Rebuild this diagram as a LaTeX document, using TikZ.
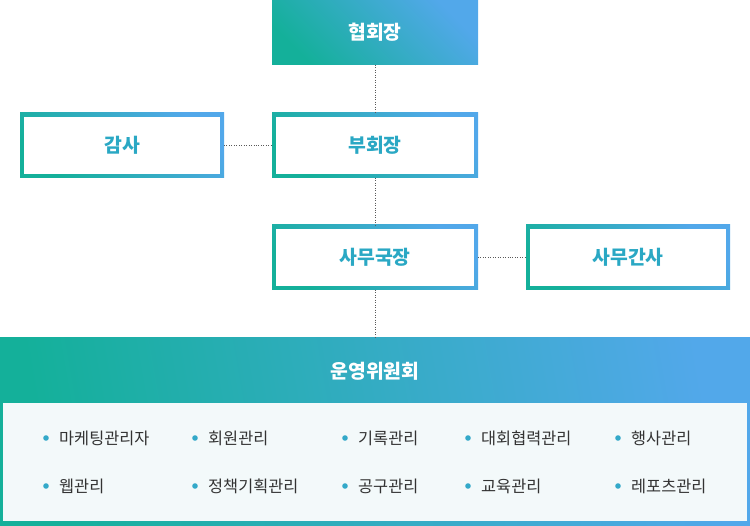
\documentclass[tikz,border=0pt]{standalone}
\usepackage{fontspec}
\setmainfont{Noto Sans CJK KR}
\usetikzlibrary{positioning}
\definecolor{teal1}{HTML}{14B09A}
\definecolor{blue1}{HTML}{52A8EA}
\definecolor{txtblue}{HTML}{2AA8C4}
\definecolor{panel}{HTML}{F3F9FA}
\definecolor{dot1}{HTML}{33A9C9}
\tikzset{
  grad/.style={left color=teal1, right color=blue1, shading angle=60},
  title/.style={text=white, font=\bfseries\fontsize{11}{11}\selectfont},
  boxtext/.style={text=txtblue, font=\bfseries\fontsize{11}{11}\selectfont},
  link/.style={densely dotted, gray!70!black, thin},
  item/.style={anchor=west, font=\fontsize{9.3}{9.3}\selectfont, text=black!80},
}
\newcommand{\gradbox}[5]{% name, x1, y1, x2, y2
  \shade[grad, shading angle=135] (#2,#3) rectangle (#4,#5);
  \fill[white] (#2+4,#3+4) rectangle (#4-4,#5-4);
}
\begin{document}
\begin{tikzpicture}[x=0.02cm, y=-0.02cm]
  \useasboundingbox (0,0) rectangle (750,526);
  % top
  \shade[left color=teal1, right color=blue1, shading angle=135] (272,0) rectangle (478,65);
  \node[title] (pres) at (375,32.5) {협회장};
  % second row
  \gradbox{aud}{20}{113}{224}{178}
  \node[boxtext] (audit) at (122,145.5) {감사};
  \gradbox{vp}{272}{113}{478}{178}
  \node[boxtext] (vice) at (375,145.5) {부회장};
  % third row
  \gradbox{sg}{272}{225}{478}{290}
  \node[boxtext] (secgen) at (375,257.5) {사무국장};
  \gradbox{sec}{526}{225}{730}{290}
  \node[boxtext] (secr) at (628,257.5) {사무간사};
  % committee
  \shade[left color=teal1, right color=blue1, shading angle=100] (0,338) rectangle (750,526);
  \fill[panel] (3,403) rectangle (747,521);
  \node[title] (comm) at (375,371) {운영위원회};
  % connectors
  \coordinate (p1) at (375,65);
  \coordinate (p2) at (375,113);
  \coordinate (p3) at (375,178);
  \coordinate (p4) at (375,225);
  \coordinate (p5) at (375,290);
  \coordinate (p6) at (375,338);
  \coordinate (a1) at (224,145.5);
  \coordinate (a2) at (272,145.5);
  \coordinate (s1) at (478,257.5);
  \coordinate (s2) at (526,257.5);
  \draw[link] (p1) -- (p2);
  \draw[link] (p3) -- (p4);
  \draw[link] (p5) -- (p6);
  \draw[link] (a1) -- (a2);
  \draw[link] (s1) -- (s2);
  % items
  \foreach \x/\y/\t [count=\i] in {46/438/마케팅관리자, 195/438/회원관리, 345/438/기록관리, 468/438/대회협력관리, 618/438/행사관리,
      46/486/웹관리, 195/486/정책기획관리, 345/486/공구관리, 468/486/교육관리, 618/486/레포츠관리} {
    \fill[dot1] (\x,\y) circle (2.8);
    \node[item] (item\i) at (\x+7,\y) {\t};
  }
\end{tikzpicture}
\end{document}
